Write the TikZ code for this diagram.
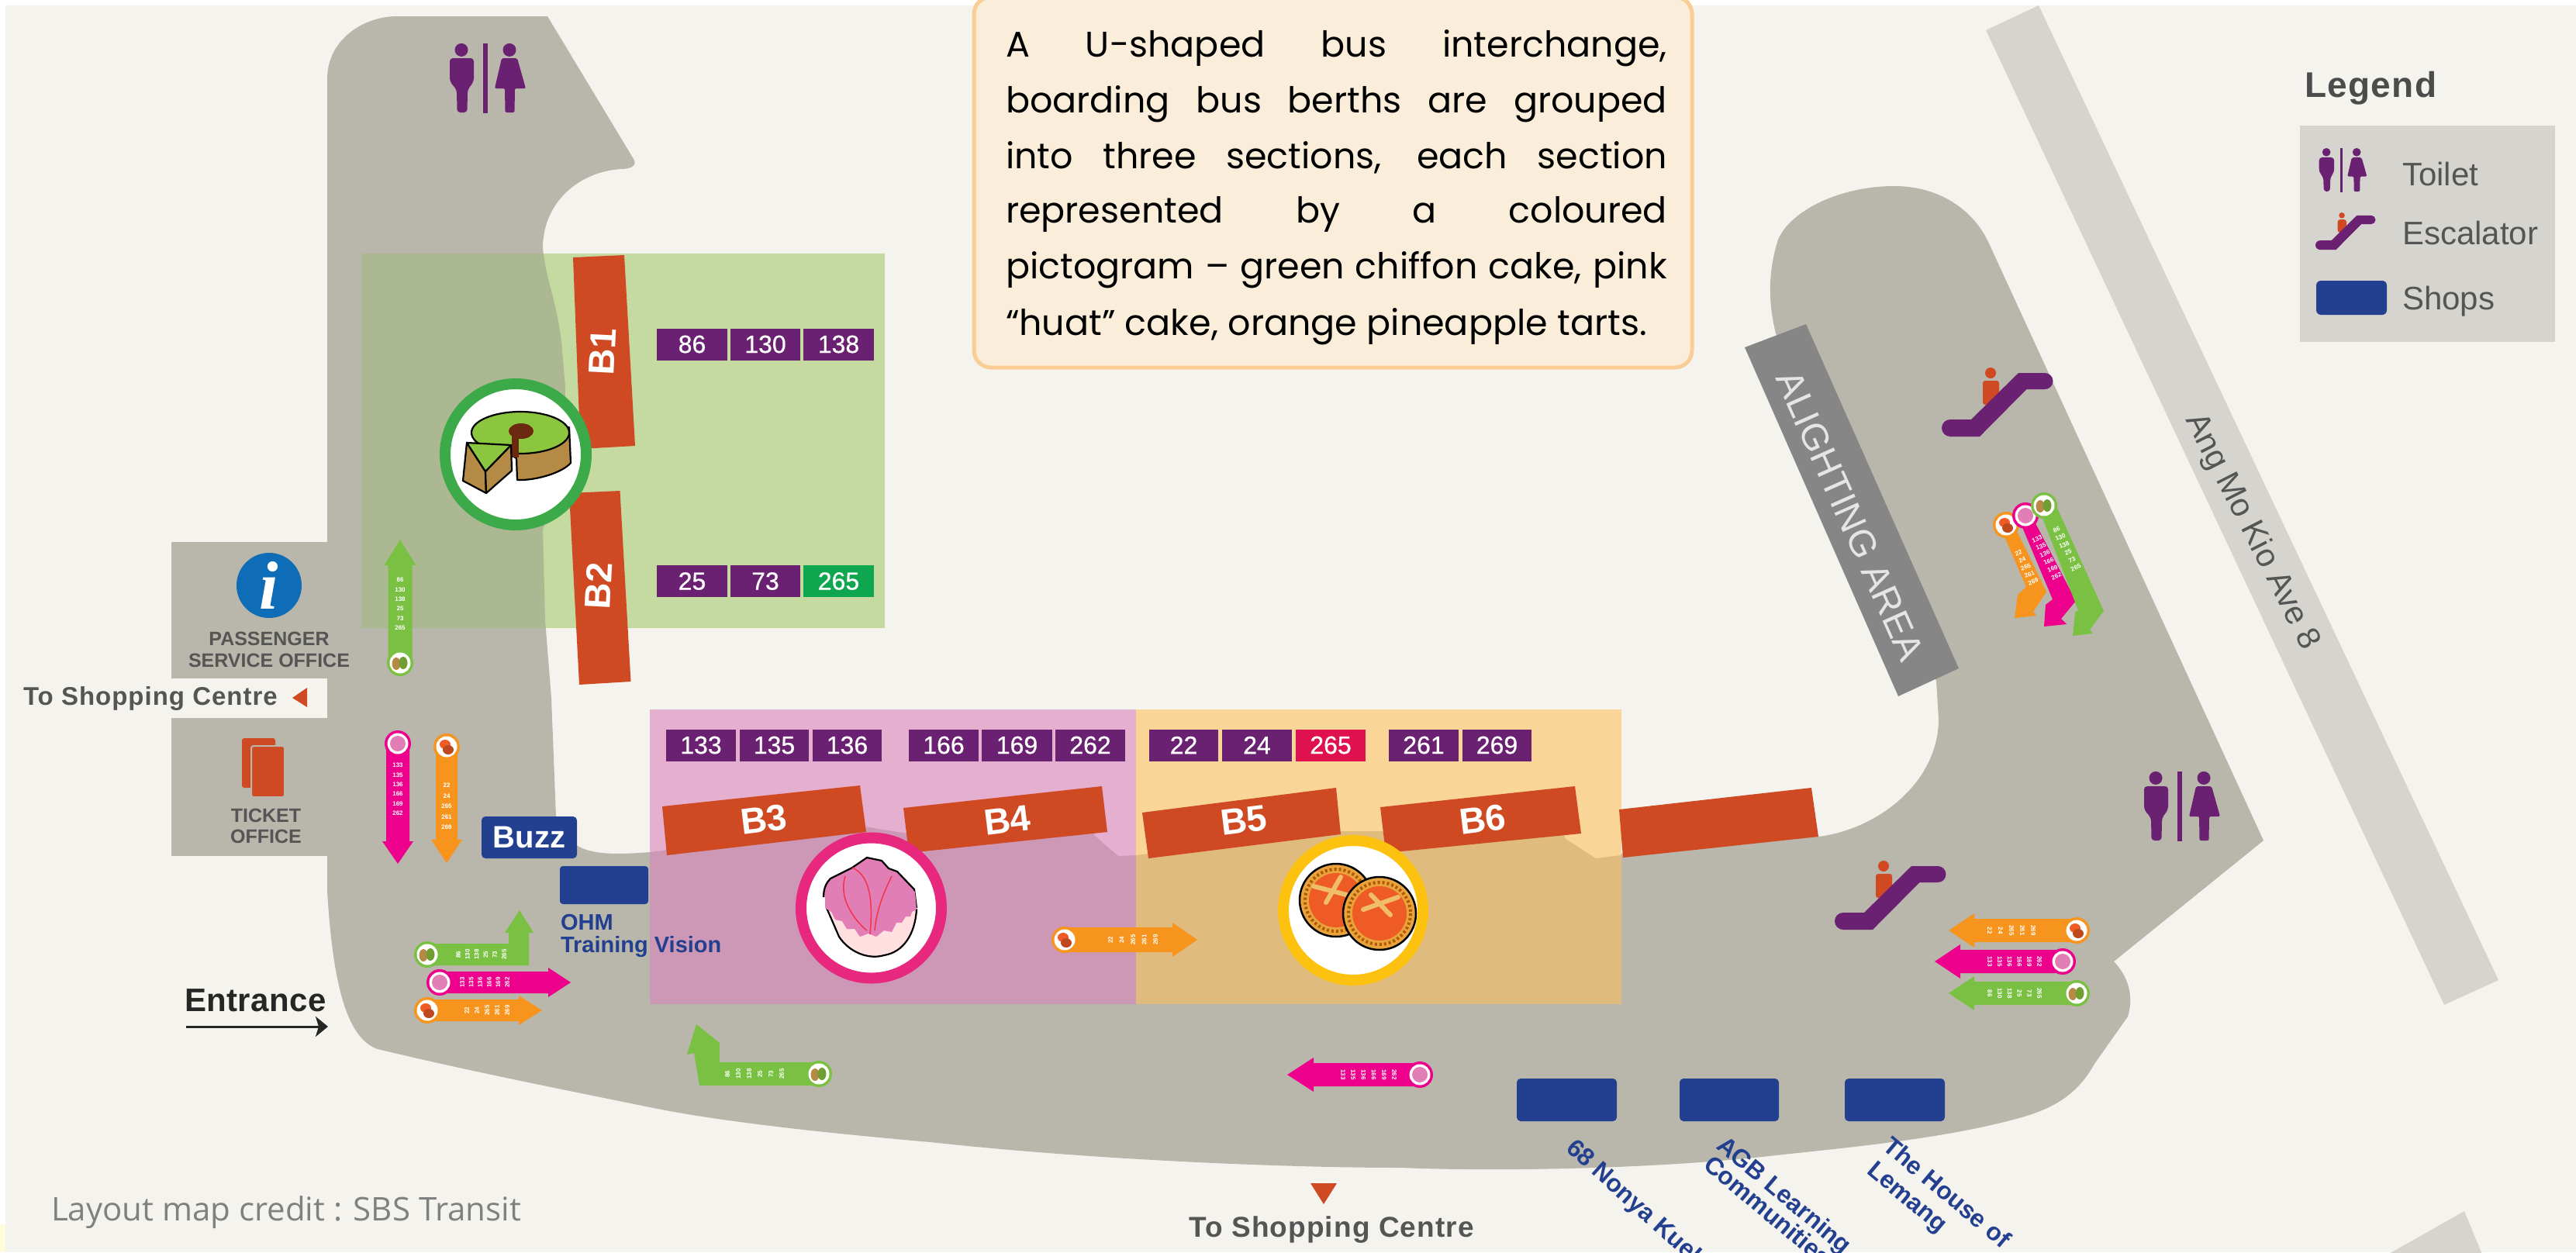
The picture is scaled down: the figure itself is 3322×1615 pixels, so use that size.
\documentclass[tikz,border=0pt]{standalone}
\usepackage{fontspec}
\usetikzlibrary{calc,arrows.meta}
\setmainfont{Liberation Sans}
\newfontfamily\boxfont{Poppins}
\newfontfamily\credfont{Open Sans}
\newfontfamily\infofont{Liberation Serif}
\newcommand\fsz[1]{\fontsize{#1}{#1}\selectfont}
\definecolor{bgc}{RGB}{245,243,238}
\definecolor{floor}{RGB}{185,183,171}
\definecolor{road}{RGB}{214,212,206}
\definecolor{bus}{RGB}{207,74,34}
\definecolor{purp}{RGB}{107,33,114}
\definecolor{shop}{RGB}{35,63,143}
\definecolor{gtxt}{RGB}{85,85,85}
\definecolor{agreen}{RGB}{122,193,67}
\definecolor{apink}{RGB}{236,0,140}
\definecolor{aorange}{RGB}{247,148,29}
\definecolor{greenL}{RGB}{196,218,160}
\definecolor{greenD}{RGB}{171,184,146}
\definecolor{pinkL}{RGB}{229,175,207}
\definecolor{pinkD}{RGB}{205,151,182}
\definecolor{orangeL}{RGB}{249,214,152}
\definecolor{orangeD}{RGB}{223,187,126}
\definecolor{cakeG}{RGB}{140,198,63}
\definecolor{cakeB}{RGB}{181,138,69}
\definecolor{cakeH}{RGB}{107,42,16}
\definecolor{huat}{RGB}{226,126,182}
\definecolor{tartC}{RGB}{232,163,61}
\definecolor{tartF}{RGB}{239,91,37}
\definecolor{tartX}{RGB}{240,190,106}
\newcommand\mainpath{(512,21) -- (706,21) -- (817,205) .. controls (822,213) and (815,218) .. (800,218)
 .. controls (745,222) and (700,262) .. (700,320) .. controls (704,360) and (718,390) .. (724,440)
 -- (729,500) -- (728,600) -- (700,683) -- (703,800) -- (711,900) -- (717,1053)
 .. controls (722,1080) and (735,1088) .. (745,1091) .. controls (765,1103) and (800,1102) .. (838,1099)
 -- (1109,1065) -- (1170,1075) -- (1400,1060) -- (1412,1078) -- (1442,1104) -- (1465,1103) -- (1490,1100)
 -- (1720,1072) -- (1790,1072) -- (2015,1070) -- (2019,1082) -- (2058,1107) -- (2090,1103) -- (2100,1090)
 -- (2340,1060) -- (2345,1079) .. controls (2420,1070) and (2500,1010) .. (2500,927) -- (2497,878) -- (2290,430)
 .. controls (2280,390) and (2280,350) .. (2293,309) .. controls (2310,270) and (2375,240) .. (2443,240)
 .. controls (2500,240) and (2545,270) .. (2565,314) -- (2919,1084) -- (2726,1240)
 .. controls (2745,1260) and (2752,1285) .. (2744,1311) -- (2701,1372)
 .. controls (2680,1410) and (2650,1430) .. (2600,1443) .. controls (2500,1470) and (2380,1480) .. (2272,1492)
 .. controls (2100,1510) and (1900,1510) .. (1806,1506) .. controls (1650,1506) and (1400,1495) .. (1200,1473)
 .. controls (1050,1460) and (920,1445) .. (838,1428) .. controls (700,1400) and (600,1380) .. (487,1353)
 .. controls (450,1340) and (430,1280) .. (422,1150) -- (422,102)
 .. controls (422,50) and (470,21) .. (512,21)}
\newcommand\busarrow[8]{% mx,my,rot,L,headlen,headhalf,stemhalf,colour
 \begin{scope}[shift={(#1,#2)},rotate=#3]
 \fill[#8] (0,-#7) -- ({#4-#5},-#7) -- ({#4-#5},-#6) -- (#4,0) -- ({#4-#5},#6) -- ({#4-#5},#7) -- (0,#7) -- cycle;
 \end{scope}}
\newcommand\medal[4]{% x,y,ring,kind
 \fill[#3] (#1,#2) circle (17);
 \fill[white] (#1,#2) circle (13.5);
 \ifnum#4=1
  \fill[cakeB] ($(#1,#2)+(-5,1)$) ellipse (5.5 and 8);
  \fill[cakeG!80!black] ($(#1,#2)+(4,0)$) ellipse (5.5 and 8);
 \fi
 \ifnum#4=2
  \fill[huat] (#1,#2) circle (10);
 \fi
 \ifnum#4=3
  \fill[tartF] ($(#1,#2)+(-2,-3)$) ellipse (7 and 6);
  \fill[tartF!80!black] ($(#1,#2)+(2,4)$) ellipse (7 and 6);
 \fi}
\newcommand\numstack[7]{% x1,y1,x2,y2,rot,n,list
 \foreach \nn [count=\kk] in {#7}{
  \pgfmathsetmacro\ff{(\kk-1)/(#6-1)}
  \node[numst,rotate=#5] at ($(#1,#2)!\ff!(#3,#4)$) {\nn};
 }}
\tikzset{
 every node/.style={inner sep=0pt,outer sep=0pt},
 routebox/.style={fill=purp,text=white,minimum height=41pt,font=\fsz{32}\addfontfeature{FakeBold=0.6}},
 numst/.style={text=white,font=\bfseries\fsz{8}},
 buslabel/.style={text=white,font=\bfseries\fsz{47}},
 shopbox/.style={fill=shop,rounded corners=5pt},
 shoplabel/.style={text=shop,font=\bfseries\fsz{32},align=left},
 grey label/.style={text=gtxt,font=\bfseries\fsz{25},align=center},
 legendtxt/.style={text=gtxt,font=\fsz{42},anchor=west},
 cakeline/.style={draw=black,line width=2.2pt,line join=round},
 toilet/.pic={
  \fill[purp] (16,8.4) circle (8.5);
  \fill[purp,rounded corners=4pt] (1,19) -- (32,19) -- (32,49) -- (24,60) -- (23.5,89) -- (10.5,89) -- (10,60) -- (1,49) -- cycle;
  \fill[purp] (44,0) rectangle (49.5,90);
  \fill[purp] (78,8.4) circle (8.5);
  \fill[purp,rounded corners=2pt] (68,19) -- (88,19) -- (99,58) -- (85,58) -- (84.5,89) -- (72.5,89) -- (72,58) -- (59,58) -- cycle;
 },
 escalator/.pic={
  \fill[bus] (63,7) circle (7);
  \fill[bus,rounded corners=3pt] (53,17) rectangle (74,48);
  \fill[purp] (11,67) -- (38,67) -- (99,7) -- (133,7) arc[start angle=-90,end angle=90,radius=10.5] -- (109.5,28) -- (49,89) -- (11,89) arc[start angle=90,end angle=270,radius=11] -- cycle;
 }
}
\begin{document}
\begin{tikzpicture}[x=1pt,y=-1pt]
\useasboundingbox (0,0) rectangle (3322,1615);
\clip (0,0) rectangle (3322,1615);
\fill[white] (0,0) rectangle (3322,1615);
\fill[bgc] (7,7) rectangle (3322,1615);
\fill[yellow!15!white] (0,1579) rectangle (7,1615);
% roads
\fill[road] (2561,39) -- (2629,7) -- (3222,1264) -- (3152,1296) -- cycle;
\fill[road] (3178,1562) -- (3210,1640) -- (3040,1640) -- cycle;
% floor
\fill[floor] \mainpath -- cycle;
\fill[floor] (221,699) rectangle (430,875);
\fill[floor] (221,926) rectangle (430,1104);
% panels
\fill[greenL] (466,327) rectangle (1141,810);
\fill[pinkL] (838,915) rectangle (1465,1295);
\fill[orangeL] (1465,915) rectangle (2091,1295);
\begin{scope}
 \clip \mainpath -- cycle;
 \fill[greenD] (466,327) rectangle (1141,810);
 \fill[pinkD] (838,915) rectangle (1465,1295);
 \fill[orangeD] (1465,915) rectangle (2091,1295);
\end{scope}
% buses
\fill[bus] (739,332) -- (805,329) -- (819,575) -- (748.5,579) -- cycle;
\fill[bus] (734,636) -- (799.5,633) -- (813.5,879) -- (747,883) -- cycle;
\fill[bus] (854,1040) -- (1109,1013) -- (1117,1073) -- (860,1103) -- cycle;
\fill[bus] (1165,1042) -- (1421,1014) -- (1428,1073) -- (1172,1100) -- cycle;
\fill[bus] (1473,1048) -- (1723,1016) -- (1729,1076) -- (1481,1107) -- cycle;
\fill[bus] (1780,1041) -- (2031,1014) -- (2039,1075) -- (1787,1100) -- cycle;
\fill[bus] (2088,1044) -- (2336,1016) -- (2345,1079) -- (2093,1106) -- cycle;
\node[buslabel,rotate=87] (b1) at (777,454) {B1};
\node[buslabel,rotate=87] (b2) at (772,756) {B2};
\node[buslabel,rotate=7] (b3) at (985,1057) {B3};
\node[buslabel,rotate=7] (b4) at (1299,1058) {B4};
\node[buslabel,rotate=7] (b5) at (1604,1058) {B5};
\node[buslabel,rotate=7] (b6) at (1912,1057) {B6};
% route boxes
\foreach \xa/\xb/\yy/\t/\c [count=\i] in {
 847/938/444/86/purp,942/1032/444/130/purp,1036/1127/444/138/purp,
 847/938/749.5/25/purp,942/1032/749.5/73/purp,1036/1127/749.5/265/{rgb,255:red,15;green,166;blue,80},
 859/949/961/133/purp,954/1043/961/135/purp,1048/1137/961/136/purp,
 1172/1262/961/166/purp,1266/1357/961/169/purp,1361/1451/961/262/purp,
 1482/1571/961/22/purp,1576/1666/961/24/purp,1671/1761/961/265/{rgb,255:red,224;green,17;blue,79},
 1791/1881/961/261/purp,1886/1975/961/269/purp}{
 \pgfmathsetmacro\ww{\xb-\xa}
 \pgfmathsetmacro\xc{(\xa+\xb)/2}
 \node[routebox,fill=\c,minimum width=\ww pt] (route\i) at (\xc,\yy) {\t};
}
% green cake circle
\fill[white,draw={rgb,255:red,60;green,170;blue,72},line width=14pt] (665,586) circle (91);
\path[cakeline,fill=cakeB] (666,591) -- (667,619) .. controls (690,620) and (725,610) .. (736,597) -- (734,551) -- (608,556) -- cycle;
\path[cakeline,fill=cakeG] (671,558) ellipse (63 and 27);
\fill[cakeH] (672,556) ellipse (16 and 10);
\fill[cakeH] (660,558) rectangle (669,590);
\path[cakeline,fill=cakeB] (602,571) -- (626,608) -- (627,636) -- (597,620) -- cycle;
\path[cakeline,fill=cakeB] (626,608) -- (659,574) -- (660,607) -- (627,636) -- cycle;
\path[cakeline,fill=cakeG] (602,571) -- (659,574) -- (626,608) -- cycle;
% pink cake circle
\fill[white,draw={rgb,255:red,232;green,39;blue,127},line width=14pt] (1123.5,1171) circle (90.5);
\path[cakeline,fill=pink!50!white] (1066,1171) -- (1182,1173) .. controls (1180,1205) and (1165,1228) .. (1140,1232) .. controls (1120,1238) and (1095,1228) .. (1082,1208) -- cycle;
\path[fill=huat,draw=black,line width=2.2pt,line join=round] (1062,1157) .. controls (1062,1145) and (1066,1138) .. (1071,1133) -- (1099,1119) -- (1118,1106) -- (1137,1110) -- (1146,1120) -- (1157,1124) -- (1179,1147) -- (1182,1171);
\fill[huat] (1064,1150) -- (1118,1108) -- (1180,1150) -- (1182,1173) -- (1176,1176) -- (1174,1182) -- (1168,1182) -- (1163,1190) -- (1156,1190) -- (1150,1202) -- (1140,1200) -- (1130,1208) -- (1120,1204) -- (1109,1208) -- (1102,1198) -- (1092,1198) -- (1086,1188) -- (1077,1186) -- (1072,1176) -- (1064,1171) -- cycle;
\draw[red!60!huat,line width=1.5pt] (1099,1119) .. controls (1125,1130) and (1125,1170) .. (1122,1205);
\draw[red!60!huat,line width=1.5pt] (1090,1130) .. controls (1080,1160) and (1105,1190) .. (1118,1200);
\draw[red!60!huat,line width=1.5pt] (1150,1130) .. controls (1135,1160) and (1130,1180) .. (1128,1200);
% tarts circle
\fill[white,draw={rgb,255:red,253;green,194;blue,16},line width=14pt] (1745,1174) circle (90);
\foreach \cx/\cy/\ax/\ay/\bx/\by/\ex/\ey/\fx/\fy in {1723/1161/1694/1143/1748/1157/1710/1164/1729/1131,1779/1178/1758/1173/1803/1157/1768/1154/1793/1180}{
 \path[draw=black,line width=2.5pt,fill=tartC] (\cx,\cy) circle (47);
 \draw[orange!70!black,line width=4pt,dash pattern=on 3pt off 3pt] (\cx,\cy) circle (40);
 \fill[tartF] (\cx,\cy) circle (35);
 \draw[tartX,line width=6pt,line cap=round] (\ax,\ay) -- (\bx,\by);
 \draw[tartX,line width=6pt,line cap=round] (\ex,\ey) -- (\fx,\fy);
}
% road and area labels
\fill[gray!95!white] (2250,448) -- (2329,418) -- (2526,862) -- (2448,898) -- cycle;
\node[text=white!90!black,font=\fsz{48},rotate=-66] (alight) at (2386,665) {ALIGHTING AREA};
\node[text=gtxt,font=\fsz{42},rotate=-63] (amk) at (2904,686) {Ang Mo Kio Ave 8};
% legend
\node[text=gtxt!90!black,font=\bfseries\fsz{46},anchor=west] (legendt) at (2972,114) {\addfontfeature{LetterSpace=3}Legend};
\fill[road] (2966,162) rectangle (3295,441);
\pic[scale=0.63] at (2990,191) {toilet};
\pic[scale=0.54] at (2986,274) {escalator};
\fill[shop,rounded corners=6pt] (2987,362) rectangle (3078,406);
\node[legendtxt] (ltoilet) at (3098,224) {Toilet};
\node[legendtxt] (lesc) at (3098,300) {Escalator};
\node[legendtxt] (lshop) at (3098,389) {Shops};
% toilets and escalators
\pic at (579,56) {toilet};
\pic at (2764,995) {toilet};
\pic at (2504,474) {escalator};
\pic at (2366,1110) {escalator};
% offices
\fill[fill={rgb,255:red,15;green,108;blue,182}] (347,755) circle (42);
\node[text=white,font=\infofont\bfseries\itshape\fsz{88}] (info) at (347,755) {i};
\node[grey label] (pso) at (347,838) {PASSENGER\\[3pt]SERVICE OFFICE};
\node[grey label] (tko) at (343,1065) {TICKET\\[2pt]OFFICE};
\fill[bus,rounded corners=3pt] (312,952) rectangle (355,1016);
\fill[bus,draw=floor,line width=2pt,rounded corners=3pt] (324,962) rectangle (367,1028);
\node[text=gtxt,font=\bfseries\fsz{33},anchor=west] (tsc1) at (30,901) {\addfontfeature{LetterSpace=3}To Shopping Centre};
\fill[bus] (377,900) -- (396,887) -- (396,912) -- cycle;
\fill[bus] (1690,1526) -- (1724,1526) -- (1707,1553) -- cycle;
\node[text=gtxt,font=\bfseries\fsz{37},anchor=center] (tsc2) at (1717,1586) {\addfontfeature{LetterSpace=3}To Shopping Centre};
% buzz and shops
\node[shopbox,minimum width=123pt,minimum height=54pt,text=white,font=\bfseries\fsz{40}] (buzz) at (682.5,1080) {Buzz};
\fill[shop,rounded corners=4pt] (722,1117) rectangle (836,1166);
\node[shoplabel,font=\bfseries\fsz{29},anchor=north west] (ohm) at (723,1179) {OHM\\[0pt]Training Vision};
\fill[shop,rounded corners=5pt] (1956,1391) rectangle (2085,1446);
\fill[shop,rounded corners=5pt] (2166,1391) rectangle (2294,1446);
\fill[shop,rounded corners=5pt] (2379,1391) rectangle (2508,1446);
\node[shoplabel,rotate=-42,anchor=base west] (s1) at (2018,1483) {68 Nonya Kueh};
\node[shoplabel,rotate=-40,anchor=base west] (s2a) at (2212,1480) {AGB Learning};
\node[shoplabel,rotate=-40,anchor=base west] (s2b) at (2195,1505) {Communities};
\node[shoplabel,rotate=-40,anchor=base west] (s3a) at (2426,1481) {The House of};
\node[shoplabel,rotate=-40,anchor=base west] (s3b) at (2406,1512) {Lemang};
% entrance
\node[text=black!85,font=\bfseries\fsz{42},anchor=west] (ent) at (238,1290) {\addfontfeature{LetterSpace=1}Entrance};
\coordinate (enta) at (240,1324);
\coordinate (entb) at (423,1324);
\draw[-{Stealth[length=16pt,width=26pt,inset=4pt]},black!85,line width=3pt] (enta) -- (entb);
\node[text=gray,font=\credfont\fsz{42},anchor=west] (credit) at (66,1564) {Layout map credit : SBS Transit};
% arrows
\busarrow{516}{855}{90}{159}{33}{20.5}{15.5}{agreen}
\medal{516}{855}{agreen}{1}
\numstack{516}{748}{516}{810}{0}{6}{86,130,138,25,73,265}
\busarrow{513}{959}{-90}{155}{29}{20}{15}{apink}
\medal{513}{959}{apink}{2}
\numstack{513}{987}{513}{1049}{0}{6}{133,135,136,166,169,262}
\busarrow{576}{963}{-90}{150}{30}{20}{14}{aorange}
\medal{576}{963}{aorange}{3}
\numstack{576}{1013}{576}{1067}{0}{5}{22,24,265,261,269}
% bent green 1
\fill[agreen] (551,1217) -- (656,1217) -- (656,1203) -- (651,1203) -- (670,1174) -- (688,1203) -- (682,1203) -- (682,1245) -- (551,1245) -- cycle;
\medal{551}{1231}{agreen}{1}
\numstack{591}{1231}{650}{1231}{90}{6}{86,130,138,25,73,265}
\busarrow{567}{1267}{0}{169}{29}{19}{14}{apink}
\medal{567}{1267}{apink}{2}
\numstack{596}{1267}{654}{1267}{90}{6}{133,135,136,166,169,262}
\busarrow{551}{1303}{0}{148}{30}{19}{14}{aorange}
\medal{551}{1303}{aorange}{3}
\numstack{602}{1303}{654}{1303}{90}{5}{22,24,265,261,269}
% bent green 2
\fill[agreen] (1056,1370) -- (928,1370) -- (928,1345) -- (898,1321) -- (886,1360) -- (895,1358) -- (902,1400) -- (1056,1400) -- cycle;
\medal{1056}{1385}{agreen}{1}
\numstack{938}{1385}{1008}{1385}{90}{6}{86,130,138,25,73,265}
\busarrow{1373}{1212}{0}{171}{32}{22}{16}{aorange}
\medal{1373}{1212}{aorange}{3}
\numstack{1432}{1212}{1490}{1212}{90}{5}{22,24,265,261,269}
\busarrow{1831}{1386}{180}{171}{34}{22}{15}{apink}
\medal{1831}{1386}{apink}{2}
\numstack{1732}{1386}{1798}{1386}{-90}{6}{133,135,136,166,169,262}
\busarrow{2678}{1200}{180}{165}{33}{22}{15}{aorange}
\medal{2678}{1200}{aorange}{3}
\numstack{2566}{1200}{2622}{1200}{-90}{5}{22,24,265,261,269}
\busarrow{2660}{1240}{180}{165}{33}{22}{15}{apink}
\medal{2660}{1240}{apink}{2}
\numstack{2566}{1240}{2630}{1240}{-90}{6}{133,135,136,166,169,262}
\busarrow{2678}{1281}{180}{165}{33}{22}{15}{agreen}
\medal{2678}{1281}{agreen}{1}
\numstack{2566}{1281}{2630}{1281}{-90}{6}{86,130,138,25,73,265}
% diagonal arrows
\fill[aorange] (2585,692) -- (2613,757) -- (2602,767) -- (2598,797) -- (2626,794) -- (2622,789) -- (2639,763) -- (2600,683) -- cycle;
\medal{2587}{677}{aorange}{3}
\numstack{2603}{713}{2622}{750}{23}{5}{22,24,265,261,269}
\fill[apink] (2608,680) -- (2647,773) -- (2638,780) -- (2636,808) -- (2665,805) -- (2658,798) -- (2677,775) -- (2625,675) -- cycle;
\medal{2612}{665}{apink}{2}
\numstack{2627}{695}{2652}{743}{23}{6}{133,135,136,166,169,262}
\fill[agreen] (2632,663) -- (2680,787) -- (2676,790) -- (2673,820) -- (2699,817) -- (2695,812) -- (2713,788) -- (2652,653) -- cycle;
\medal{2636}{652}{agreen}{1}
\numstack{2652}{683}{2677}{732}{23}{6}{86,130,138,25,73,265}
% text box
\node[draw={rgb,255:red,251;green,205;blue,150},fill={rgb,255:red,250;green,238;blue,218},line width=5pt,rounded corners=22pt,minimum width=926pt,minimum height=478pt] (tbox) at (1719,235) {};
\node[text=black,font=\boxfont\fsz{46},align=left,anchor=north west] (tbody) at (1297,38) {%
\makebox[853pt][s]{A U-shaped bus interchange,}\\[24pt]
\makebox[853pt][s]{boarding bus berths are grouped}\\[24pt]
\makebox[853pt][s]{into three sections, each section}\\[24pt]
\makebox[853pt][s]{represented by a coloured}\\[24pt]
\makebox[853pt][s]{pictogram – green chiffon cake, pink}\\[24pt]
\makebox[853pt][l]{“huat” cake, orange pineapple tarts.}};
\end{tikzpicture}
\end{document}
